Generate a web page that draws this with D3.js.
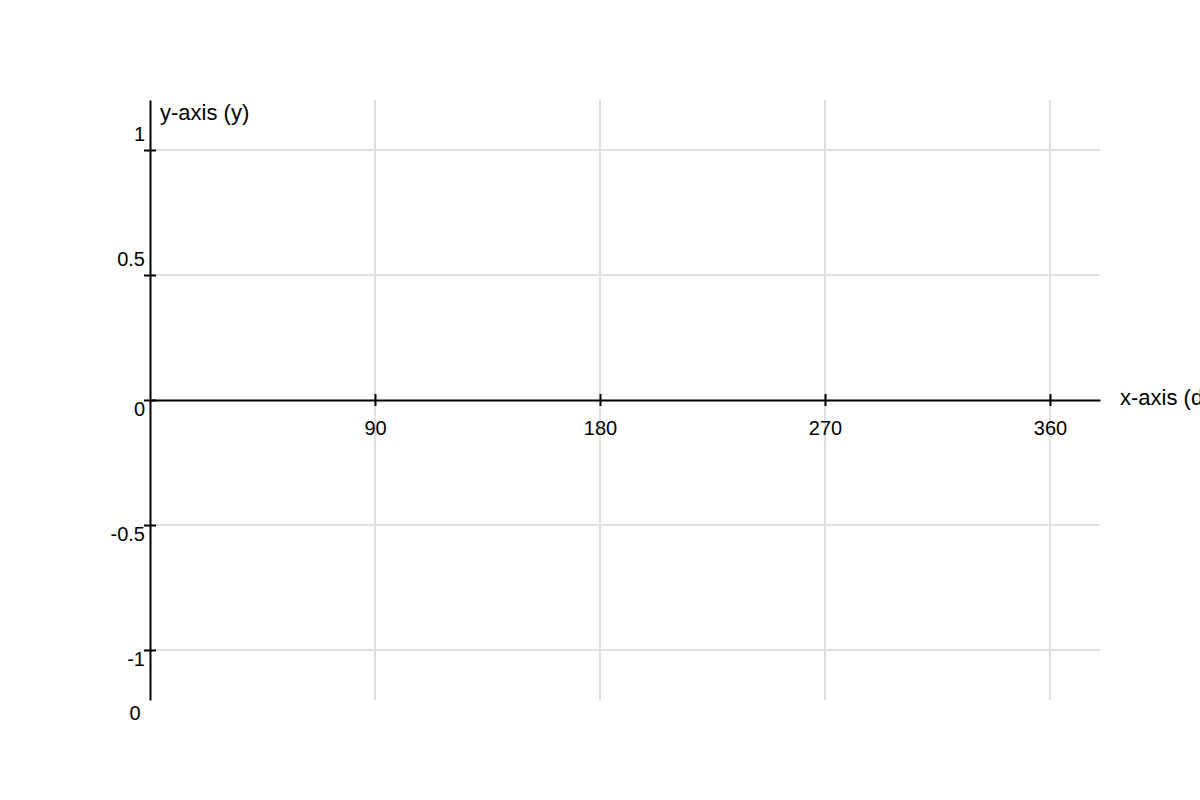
<!DOCTYPE html>
<html>
<head>
<meta charset="utf-8">
<script src="https://d3js.org/d3.v7.min.js"></script>
<style>
  body { margin: 0; background: #fff; overflow: hidden; }
  text { font-family: "Liberation Sans", Arial, sans-serif; fill: #000; }
</style>
</head>
<body>
<div id="chart"></div>
<script>
// axis settings
var xDomain = [0, 380];
var yDomain = [-1.2, 1.2];
var xTicks = [90, 180, 270, 360];
var yTicks = [1, 0.5, 0, -0.5, -1];
var xOriginLabel = "0";
var xTitle = "x-axis (degrees)";
var yTitle = "y-axis (y)";

var svgWidth = 1200;
var svgHeight = 800;

var margin = { top: 100, right: 100, bottom: 100, left: 150 };
var width = svgWidth - margin.left - margin.right;
var height = svgHeight - margin.top - margin.bottom;

var svg = d3.select("#chart")
    .append("svg")
    .attr("width", svgWidth)
    .attr("height", svgHeight);

var chartGroup = svg.append("g")
    .attr("transform", `translate(${margin.left}, ${margin.top})`);

var xScale = d3.scaleLinear().domain(xDomain).range([0, width]);
var yScale = d3.scaleLinear().domain(yDomain).range([height, 0]);

// grid lines
chartGroup.append("g")
    .selectAll("line")
    .data(xTicks)
    .enter()
    .append("line")
    .attr("x1", d => xScale(d))
    .attr("x2", d => xScale(d))
    .attr("y1", 0)
    .attr("y2", height)
    .attr("stroke", "#e0e0e0")
    .attr("stroke-width", 2);

chartGroup.append("g")
    .selectAll("line")
    .data(yTicks.filter(d => d !== 0))
    .enter()
    .append("line")
    .attr("x1", 0)
    .attr("x2", width)
    .attr("y1", d => yScale(d))
    .attr("y2", d => yScale(d))
    .attr("stroke", "#e0e0e0")
    .attr("stroke-width", 2);

// x axis through y = 0
var xAxis = d3.axisBottom(xScale)
    .tickValues(xTicks)
    .tickFormat(d => String(d))
    .tickSizeInner(0)
    .tickSizeOuter(0)
    .tickPadding(0);

var xAxisGroup = chartGroup.append("g")
    .attr("transform", `translate(0, ${yScale(0)})`)
    .call(xAxis);

xAxisGroup.select(".domain").attr("stroke", "#000").attr("stroke-width", 2);
xAxisGroup.selectAll(".tick line")
    .attr("y1", -6)
    .attr("y2", 6)
    .attr("stroke", "#000")
    .attr("stroke-width", 2);
xAxisGroup.selectAll(".tick text")
    .attr("y", 35)
    .attr("dy", null)
    .attr("font-size", "20px")
    .attr("font-family", "Liberation Sans, Arial, sans-serif");

// y axis at x = 0
var yAxis = d3.axisLeft(yScale)
    .tickValues(yTicks)
    .tickFormat(d => String(d))
    .tickSizeInner(0)
    .tickSizeOuter(0)
    .tickPadding(0);

var yAxisGroup = chartGroup.append("g").call(yAxis);

yAxisGroup.select(".domain").attr("stroke", "#000").attr("stroke-width", 2);
yAxisGroup.selectAll(".tick line")
    .attr("x1", -6)
    .attr("x2", 6)
    .attr("stroke", "#000")
    .attr("stroke-width", 2);
yAxisGroup.selectAll(".tick text")
    .attr("x", -5)
    .attr("y", d => d > 0 ? -10 : 15)
    .attr("dy", null)
    .attr("font-size", "20px")
    .attr("font-family", "Liberation Sans, Arial, sans-serif");

// origin label below the y axis
chartGroup.append("text")
    .attr("x", -15)
    .attr("y", height + 20)
    .attr("text-anchor", "middle")
    .attr("font-size", "20px")
    .text(xOriginLabel);

// axis titles
chartGroup.append("text")
    .attr("x", width + 20)
    .attr("y", yScale(0) + 5)
    .attr("font-size", "22px")
    .text(xTitle);

chartGroup.append("text")
    .attr("x", 10)
    .attr("y", 20)
    .attr("font-size", "22px")
    .text(yTitle);
</script>
</body>
</html>
